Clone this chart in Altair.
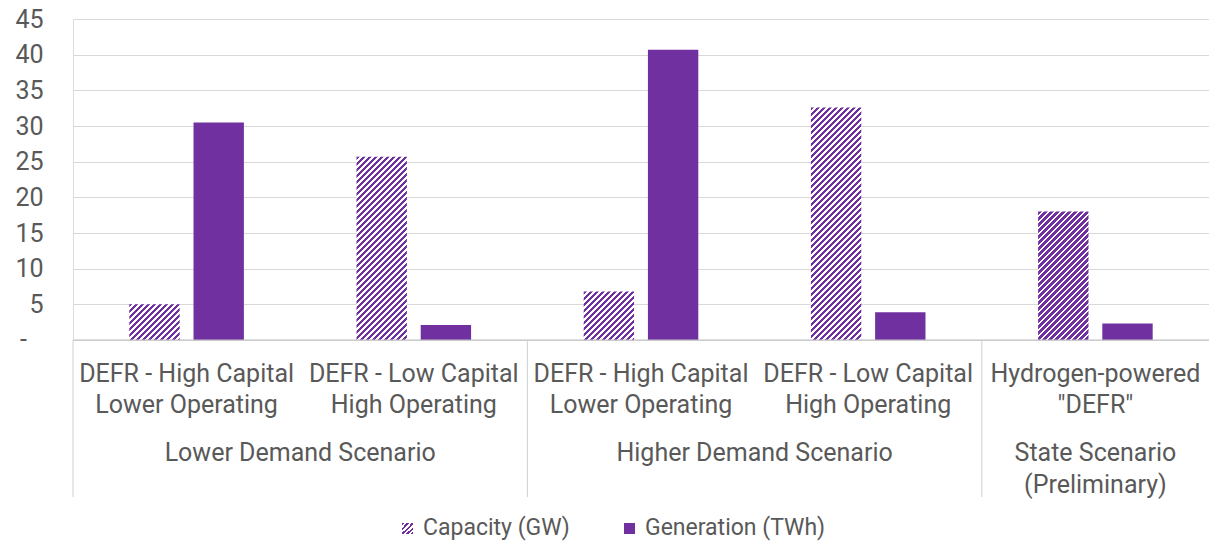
import altair as alt
import pandas as pd

# ---- data ----
keys = ["c1", "c2", "c3", "c4", "c5"]
cases = [
    "DEFR - High Capital\nLower Operating",
    "DEFR - Low Capital\nHigh Operating",
    "DEFR - High Capital\nLower Operating",
    "DEFR - Low Capital\nHigh Operating",
    "Hydrogen-powered\n\"DEFR\"",
]
group_names = ["Lower Demand Scenario", "Higher Demand Scenario", "State Scenario\n(Preliminary)"]
group_first_key = ["c1", "c3", "c5"]
series = ["Capacity (GW)", "Generation (TWh)"]
capacity_gw = [5.0, 25.7, 6.8, 32.6, 18.0]
generation_twh = [30.5, 2.1, 40.7, 3.9, 2.3]
y_ticks = [0, 5, 10, 15, 20, 25, 30, 35, 40, 45]

# ---- layout / style ----
W, H = 1136, 321
YMAX = 45
PURPLE = "#7030A0"
TEXT = "#595959"
FONT = "Roboto"
FS = 25
PI_OFF, PO_OFF = 0.2155, 0.877

df = pd.DataFrame({
    "key": keys * 2,
    "series": [series[0]] * len(keys) + [series[1]] * len(keys),
    "value": capacity_gw + generation_twh,
})
labels_df = pd.DataFrame({"key": keys, "case": cases})
groups_df = pd.DataFrame({"key": group_first_key, "group": group_names})

band = W / len(keys)
step = band / (2 - PI_OFF + 2 * PO_OFF)
bar_w = step * (1 - PI_OFF)


def hatch(w, h, period=6.0, frac=0.55, color=PURPLE):
    k = (w + h) / (w * w + h * h)
    n = (w + h) / period
    stops = []
    i = 0
    while i < n:
        a = min(i / n, 1.0)
        b = min((i + frac) / n, 1.0)
        c = min((i + 1) / n, 1.0)
        stops += [(a, color), (b, color), (b, "#ffffff"), (c, "#ffffff")]
        i += 1
    return alt.LinearGradient(
        gradient="linear", x1=0, y1=0, x2=k * w, y2=k * h,
        stops=[alt.GradientStop(offset=o, color=col) for o, col in stops],
    )


X = alt.X("key:N", sort=keys, scale=alt.Scale(paddingInner=0, paddingOuter=0), axis=None)
XO = alt.XOffset("series:N", sort=series,
                 scale=alt.Scale(domain=series, paddingInner=PI_OFF, paddingOuter=PO_OFF))
Y = alt.Y("value:Q", scale=alt.Scale(domain=[0, YMAX]),
          axis=alt.Axis(values=y_ticks, title=None, domain=False, ticks=False,
                        grid=True, gridColor="#d9d9d9", gridWidth=1,
                        labelExpr="datum.value == 0 ? '' : datum.label",
                        labelFont=FONT, labelFontSize=FS, labelColor=TEXT,
                        labelPadding=30))

base = alt.Chart(df).encode(x=X, xOffset=XO, y=Y)

layers = []
layers.append(base.transform_filter(alt.datum.series == series[1]).mark_bar(color=PURPLE))
for k_, v in zip(keys, capacity_gw):
    layers.append(
        base.transform_filter((alt.datum.series == series[0]) & (alt.datum.key == k_))
        .mark_bar(fill=hatch(bar_w, v * H / YMAX))
    )

# baseline
layers.append(alt.Chart(df).transform_filter(alt.datum.key == keys[0])
              .transform_filter(alt.datum.series == series[0])
              .mark_rule(color="#bfbfbf", strokeWidth=1)
              .encode(y=alt.value(H)))

# separators
layers.append(alt.Chart(groups_df).mark_rule(color="#d0d0d0", strokeWidth=1).encode(
    x=alt.X("key:N", sort=keys, bandPosition=0, axis=None),
    y=alt.value(H), y2=alt.value(H + 157)))

# case labels
layers.append(alt.Chart(labels_df).mark_text(
    lineBreak="\n", lineHeight=31, baseline="top", align="center",
    font=FONT, fontSize=FS, color=TEXT).encode(
    x=alt.X("key:N", sort=keys, axis=None), y=alt.value(H + 22), text="case:N"))

# group labels
grp_kw = dict(lineBreak="\n", lineHeight=32, baseline="top", align="center",
              font=FONT, fontSize=FS, color=TEXT)
layers.append(alt.Chart(groups_df).transform_filter(alt.datum.key != "c5").mark_text(**grp_kw).encode(
    x=alt.X("key:N", sort=keys, bandPosition=1, axis=None), y=alt.value(H + 101), text="group:N"))
layers.append(alt.Chart(groups_df).transform_filter(alt.datum.key == "c5").mark_text(**grp_kw).encode(
    x=alt.X("key:N", sort=keys, bandPosition=0.5, axis=None), y=alt.value(H + 101), text="group:N"))

# zero tick label "-"
layers.append(alt.Chart(pd.DataFrame({"t": ["-"]})).mark_text(
    align="right", baseline="middle", font=FONT, fontSize=FS, color=TEXT).encode(
    x=alt.value(-46), y=alt.value(H), text="t:N"))

# legend
leg_y = H + 188
sw = 11
LFS = 23
leg1 = pd.DataFrame({"s": [series[0]]})
leg2 = pd.DataFrame({"s": [series[1]]})
layers.append(alt.Chart(leg1).mark_rect(fill=hatch(sw, sw, period=5.0)).encode(
    x=alt.value(329), x2=alt.value(329 + sw), y=alt.value(leg_y - 5), y2=alt.value(leg_y - 5 + sw)))
layers.append(alt.Chart(leg1).mark_text(align="left", baseline="middle", font=FONT, fontSize=LFS,
                                        color=TEXT).encode(
    x=alt.value(350), y=alt.value(leg_y), text="s:N"))
layers.append(alt.Chart(leg2).mark_rect(fill=PURPLE).encode(
    x=alt.value(551), x2=alt.value(551 + sw), y=alt.value(leg_y - 5), y2=alt.value(leg_y - 5 + sw)))
layers.append(alt.Chart(leg2).mark_text(align="left", baseline="middle", font=FONT, fontSize=LFS,
                                        color=TEXT).encode(
    x=alt.value(572), y=alt.value(leg_y), text="s:N"))

chart = alt.layer(*layers).properties(
    width=W, height=H,
    autosize=alt.AutoSizeParams(type="none"),
    padding={"left": 65, "top": 11, "right": 0, "bottom": 201},
).configure_view(stroke=None).configure(background="white")

chart.save("out.html", embed_options={"renderer": "svg", "actions": False})
